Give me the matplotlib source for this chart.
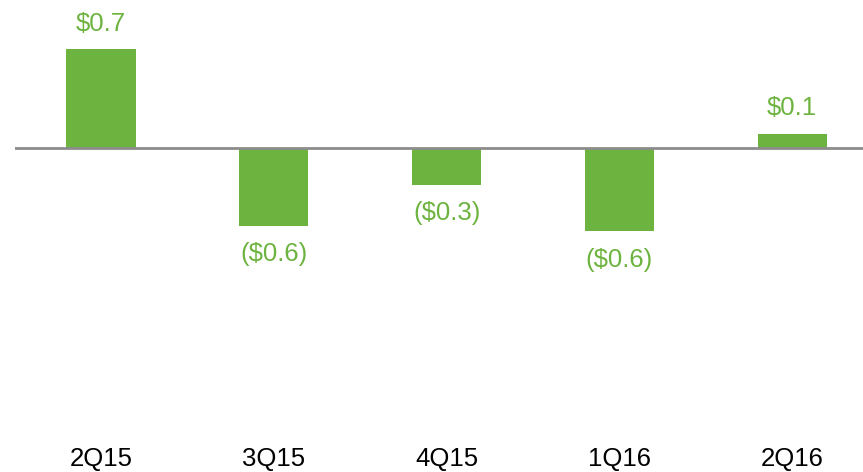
import matplotlib
matplotlib.use("Agg")
import matplotlib.pyplot as plt

# ── Data ──────────────────────────────────────────────────────────────────────
quarters = ["2Q15", "3Q15", "4Q15", "1Q16", "2Q16"]
values   = [0.70, -0.55, -0.26, -0.59, 0.10]
labels   = ["$0.7", "($0.6)", "($0.3)", "($0.6)", "$0.1"]

GREEN = "#6DB33F"
GRAY  = "#8C8C8C"

plt.rcParams["font.family"] = ["Liberation Sans", "DejaVu Sans"]

W, H = 863, 472
fig = plt.figure(figsize=(W / 100, H / 100), dpi=100)
# axes spans x 15..863 px, y 0..440 px (from top)
ax = fig.add_axes([15 / W, (H - 440) / H, (W - 15) / W, 440 / H])

x = list(range(len(quarters)))
ax.bar(x, values, width=0.40, color=GREEN, zorder=2)
ax.axhline(0, color=GRAY, linewidth=2, zorder=3)

ax.set_xlim(-0.498, 4.41)
ax.set_ylim(-(440 - 148) / 141, 148 / 141)

for xi, v, lab in zip(x, values, labels):
    if v >= 0:
        ax.annotate(lab, (xi, v), xytext=(0, 18.5), textcoords="offset points",
                    ha="center", va="center", color=GREEN, fontsize=18.5)
    else:
        ax.annotate(lab, (xi, v), xytext=(0, -20.5), textcoords="offset points",
                    ha="center", va="center", color=GREEN, fontsize=18.5)

ax.set_xticks(x)
ax.set_xticklabels(quarters, fontsize=18.5, color="#000000")
ax.tick_params(axis="x", length=0, pad=5)
ax.set_yticks([])
for s in ax.spines.values():
    s.set_visible(False)

fig.savefig("out.png", dpi=100)
